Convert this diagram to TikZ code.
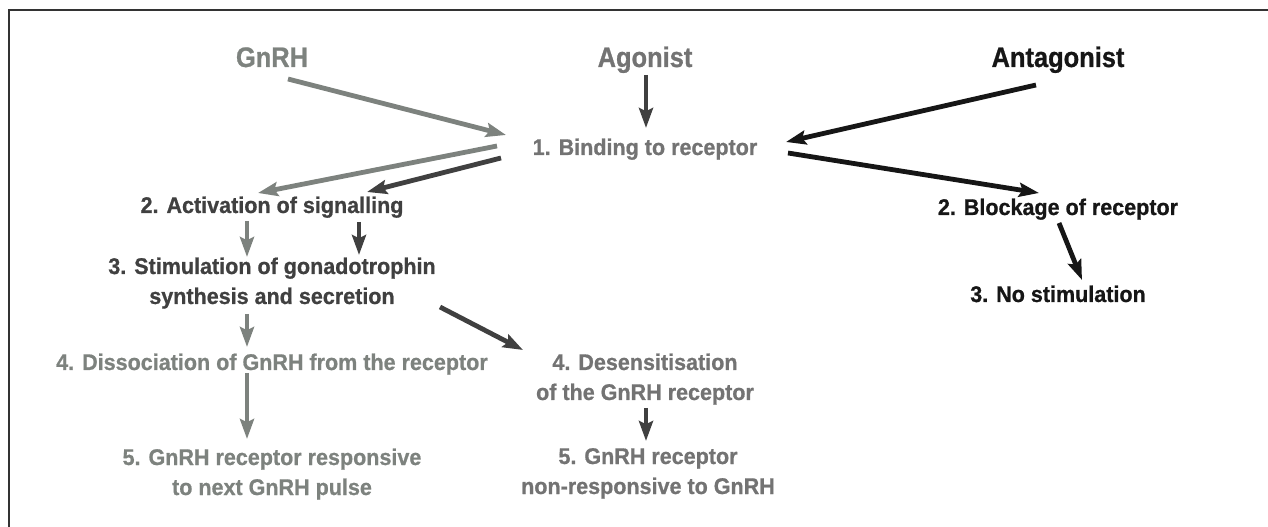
\documentclass[tikz,border=0pt]{standalone}
\usepackage{fontspec}
\usetikzlibrary{arrows.meta,calc}
\newfontfamily\stepfont{Liberation Sans}[FakeStretch=0.95, FakeBold=0.8]
\newfontfamily\headfont{Liberation Sans}[FakeStretch=0.9, FakeBold=0.8]
\definecolor{lightgrey}{HTML}{7D827E}
\definecolor{midgrey}{HTML}{737373}
\definecolor{darkgrey}{HTML}{404040}
\definecolor{nearblack}{HTML}{161616}
\definecolor{framegrey}{HTML}{333333}
\newcommand{\twolines}[2]{\begin{tabular}[t]{@{}c@{}}#1\\#2\end{tabular}}
\tikzset{
  x=0.75pt, y=-0.75pt,
  every node/.style={inner sep=0pt, outer sep=0pt, anchor=base},
  heading/.style={font=\headfont\bfseries\fontsize{21.2}{25}\selectfont},
  stage/.style={font=\stepfont\bfseries\fontsize{17}{22.5}\selectfont},
  flow/.style={line width=3.6pt, -{Stealth[length=15pt, width=10.5pt, inset=2.5pt]}},
}
\begin{document}
\begin{tikzpicture}
\useasboundingbox (0,0) rectangle (1268,527);
% frame along the top and left edges
\draw[framegrey, line width=1.2pt] (9,527) -- (9,10) -- (1268,10);

% sources
\node[heading, text=lightgrey] (gnrh)  at (272,67)  {GnRH};
\node[heading, text=midgrey]   (agon)  at (645,67)  {Agonist};
\node[heading, text=nearblack] (antag) at (1058,67) {Antagonist};

% common first step
\node[stage, text=midgrey] (bind) at (645,155) {1. Binding to receptor};

% antagonist branch
\node[stage, text=nearblack] (block)  at (1058,215) {2. Blockage of receptor};
\node[stage, text=nearblack] (nostim) at (1058,302) {3. No stimulation};

% GnRH / agonist branch
\node[stage, text=darkgrey]  (activ)  at (272,213) {2. Activation of signalling};
\node[stage, text=darkgrey]  (stim)   at (272,274) {\twolines{3. Stimulation of gonadotrophin}{synthesis and secretion}};
\node[stage, text=lightgrey] (dissoc) at (272,370) {4. Dissociation of GnRH from the receptor};
\node[stage, text=lightgrey] (resp)   at (272,465) {\twolines{5. GnRH receptor responsive}{to next GnRH pulse}};
\node[stage, text=midgrey]   (desens) at (645,370) {\twolines{4. Desensitisation}{of the GnRH receptor}};
\node[stage, text=midgrey]   (nonresp) at (648,464) {\twolines{5. GnRH receptor}{non-responsive to GnRH}};

% connectors
\draw[flow, lightgrey] ($(gnrh.base)+(16,12)$)   -- ($(bind.base)+(-139,-20)$);
\draw[flow, darkgrey]  ($(agon.base)+(1,8)$)     -- ($(bind.base)+(1,-27)$);
\draw[flow, nearblack] ($(antag.base)+(-22,18)$) -- ($(bind.base)+(141,-13)$);
\draw[flow, nearblack] ($(bind.base)+(143,-2)$)  -- ($(block.base)+(-19,-22)$);
\draw[flow, nearblack] ($(block.base)+(1,8)$)    -- ($(nostim.base)+(24,-22)$);

\draw[flow, lightgrey] ($(bind.base)+(-148,-9)$) -- ($(activ.base)+(-14,-20)$);
\draw[flow, darkgrey]  ($(bind.base)+(-144,3)$)  -- ($(activ.base)+(95,-21)$);
\draw[flow, lightgrey] ($(activ.base)+(-25,8)$)  -- ($(stim.base)+(-25,-17)$);
\draw[flow, darkgrey]  ($(activ.base)+(87,9)$)   -- ($(stim.base)+(87,-19)$);
\draw[flow, lightgrey] ($(stim.base)+(-25,40)$)  -- ($(dissoc.base)+(-25,-23)$);
\draw[flow, lightgrey] ($(dissoc.base)+(-25,3)$) -- ($(resp.base)+(-25,-26)$);
\draw[flow, darkgrey]  ($(stim.base)+(168,33)$)  -- ($(desens.base)+(-122,-20)$);
\draw[flow, darkgrey]  ($(desens.base)+(1,38)$)  -- ($(nonresp.base)+(-2,-23)$);
\end{tikzpicture}
\end{document}
